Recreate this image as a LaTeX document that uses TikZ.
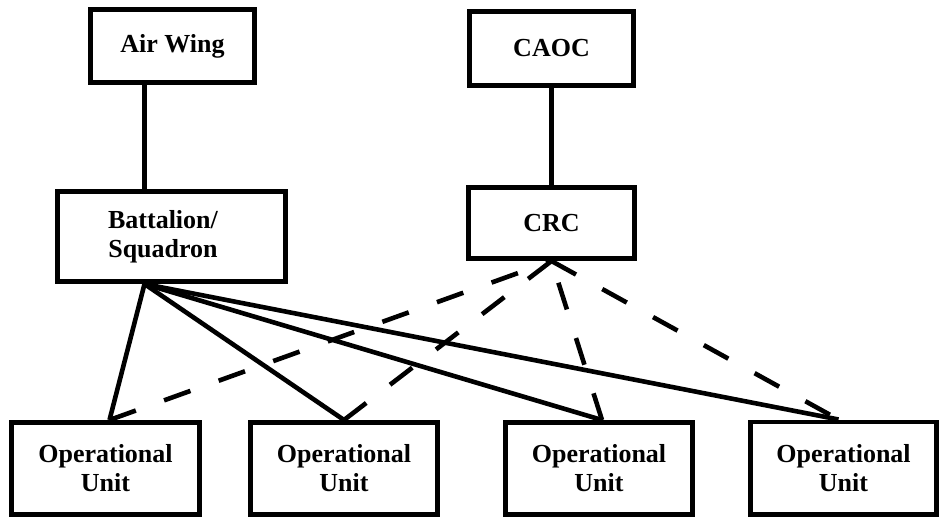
\documentclass[tikz,border=0pt]{standalone}
\usepackage{fontspec}
\setmainfont{Liberation Serif}
\begin{document}
\begin{tikzpicture}[x=1pt,y=-1pt,
  box/.style={draw=black,line width=4.6pt,inner sep=0pt,align=center,
    font=\fontsize{26}{29}\selectfont\bfseries},
  link/.style={line width=4.6pt,black},
  dlink/.style={line width=4.6pt,black,dash pattern=on 28pt off 30pt}]
\useasboundingbox (0,0) rectangle (941,519);
% top boxes
\node[box,minimum width=164.4pt,minimum height=73.4pt] (aw) at (172.5,46) {Air Wing};
\node[box,minimum width=164.4pt,minimum height=74.4pt] (caoc) at (551.5,48.5) {CAOC};
\node[box,minimum width=228.4pt,minimum height=90.4pt] (bat) at (171.5,236.5)
  {\hspace*{-17pt}Battalion/\\\hspace*{-17pt}Squadron};
\node[box,minimum width=166.4pt,minimum height=71.4pt] (crc) at (551.5,223) {CRC};
% bottom boxes
\node[box,minimum width=188.4pt,minimum height=92.4pt] (ou1) at (105.5,468.5) {Operational\\Unit};
\node[box,minimum width=187.4pt,minimum height=92.4pt] (ou2) at (344,468.5) {Operational\\Unit};
\node[box,minimum width=187.4pt,minimum height=92.4pt] (ou3) at (599,468.5) {Operational\\Unit};
\node[box,minimum width=186.4pt,minimum height=92.4pt] (ou4) at (843.5,468) {Operational\\Unit};
% vertical links
\draw[link] ([xshift=-28pt]aw.south) -- ([xshift=-27pt]bat.north);
\draw[link] (caoc.south) -- (crc.north);
% command links
\coordinate (bs) at ([xshift=-27pt]bat.south);
\coordinate (cs) at (crc.south);
\draw[link] (bs) -- ([xshift=4pt]ou1.north);
\draw[link] (bs) -- (ou2.north);
\draw[link] (bs) -- ([xshift=3pt]ou3.north);
\draw[link] (bs) -- ([xshift=-5pt]ou4.north);
% dashed links
\draw[dlink] ([xshift=4pt]ou1.north) -- (cs);
\draw[dlink] (ou2.north) -- (cs);
\draw[dlink] ([xshift=3pt]ou3.north) -- (cs);
\draw[dlink] (cs) -- ([xshift=-5pt]ou4.north);
\end{tikzpicture}
\end{document}
